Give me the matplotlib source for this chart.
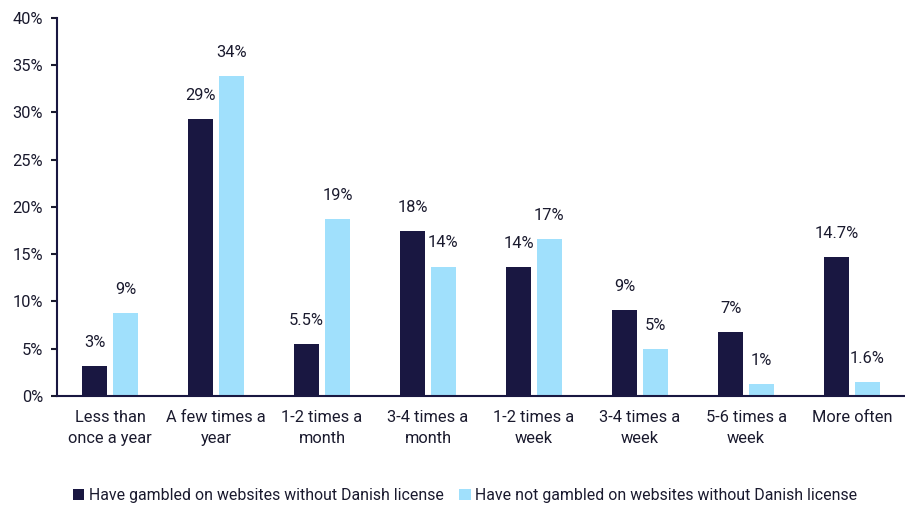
import matplotlib.pyplot as plt
import numpy as np

# Data
categories = ["Less than\nonce a year", "A few times a\nyear", "1-2 times a\nmonth", "3-4 times a\nmonth",
              "1-2 times a\nweek", "3-4 times a\nweek", "5-6 times a\nweek", "More often"]
gambled = [3.2, 29.3, 5.5, 17.5, 13.6, 9.1, 6.8, 14.7]
not_gambled = [8.8, 33.9, 18.7, 13.7, 16.6, 5.0, 1.3, 1.5]
gambled_labels = ["3%", "29%", "5.5%", "18%", "14%", "9%", "7%", "14.7%"]
not_gambled_labels = ["9%", "34%", "19%", "14%", "17%", "5%", "1%", "1.6%"]
series_names = ["Have gambled on websites without Danish license",
                "Have not gambled on websites without Danish license"]

dark = "#191741"
light = "#a0e0fc"
text_col = "#1a1a2e"
fs = 11.8

plt.rcParams['font.family'] = ['Roboto', 'DejaVu Sans']

fig = plt.figure(figsize=(9.05, 5.07), dpi=100)
ax = fig.add_axes([0.063, 0.219, 0.937, 0.7455])

x = np.arange(len(categories))
w = 0.23
off = 0.145
b1 = ax.bar(x - off, gambled, w, color=dark, label=series_names[0])
b2 = ax.bar(x + off, not_gambled, w, color=light, label=series_names[1])

for rect, lab in zip(b1, gambled_labels):
    ax.text(rect.get_x() + rect.get_width() / 2, rect.get_height() + 1.7, lab,
            ha='center', va='bottom', fontsize=fs, color=text_col)
for rect, lab in zip(b2, not_gambled_labels):
    ax.text(rect.get_x() + rect.get_width() / 2, rect.get_height() + 1.7, lab,
            ha='center', va='bottom', fontsize=fs, color=text_col)

ax.set_ylim(0, 40)
ax.set_xlim(-0.5, len(categories) - 0.5)
ax.set_yticks(range(0, 41, 5))
ax.set_yticklabels([f"{v}%" for v in range(0, 41, 5)])
ax.set_xticks(x)
ax.set_xticklabels(categories, linespacing=1.5)
ax.tick_params(axis='y', labelsize=fs, colors=text_col, length=4, width=1.5, direction='out', pad=6)
ax.tick_params(axis='x', labelsize=fs, colors=text_col, length=0, pad=10)

for s in ['top', 'right']:
    ax.spines[s].set_visible(False)
ax.spines['left'].set_color(dark)
ax.spines['bottom'].set_color(dark)
ax.spines['left'].set_linewidth(1.5)
ax.spines['bottom'].set_linewidth(1.5)

fig.legend(handles=[b1, b2], loc='center', bbox_to_anchor=(0.514, 0.022), ncol=2,
           frameon=False, fontsize=11.4, handlelength=0.7, handleheight=0.7,
           handletextpad=0.3, columnspacing=1.0, labelcolor=text_col)

fig.savefig("out.png", dpi=100)
